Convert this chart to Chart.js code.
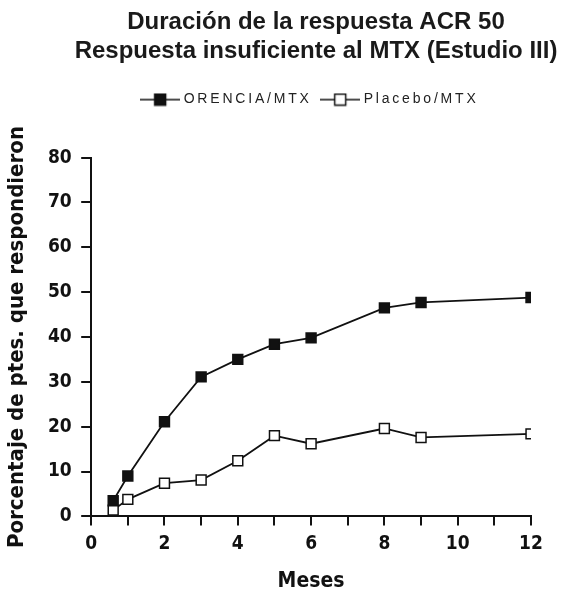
<!DOCTYPE html>
<html>
<head>
<meta charset="utf-8">
<script src="https://cdn.jsdelivr.net/npm/chart.js@4.4.1/dist/chart.umd.min.js"></script>
<style>
  html, body { margin: 0; padding: 0; background: #fff; }
  #wrap { width: 564px; height: 590px; }
</style>
</head>
<body>
<div id="wrap"><canvas id="myChart" width="564" height="590"></canvas></div>
<script>
// months and values
var meses = [0.6, 1, 2, 3, 4, 5, 6, 8, 9, 12];
var orencia = [3.5, 9.0, 21.1, 31.1, 35.0, 38.4, 39.8, 46.5, 47.7, 48.8];
var placebo = [1.4, 3.8, 7.4, 8.1, 12.4, 18.0, 16.2, 19.6, 17.6, 18.4];
var yTicks = [0, 10, 20, 30, 40, 50, 60, 70, 80];
var xLabels = [0, 2, 4, 6, 8, 10, 12];

var narrow = "'Liberation Sans Narrow', 'DejaVu Sans Condensed', 'Liberation Sans', sans-serif";

function toPoints(xs, ys) {
  return xs.map(function (x, i) { return { x: x, y: ys[i] }; });
}

// small legend sample: line with a square in the middle
function legendMark(filled) {
  var c = document.createElement('canvas');
  c.width = 40; c.height = 14;
  var g = c.getContext('2d');
  g.strokeStyle = '#111';
  g.lineWidth = 1.5;
  g.beginPath(); g.moveTo(0, 7); g.lineTo(40, 7); g.stroke();
  g.fillStyle = filled ? '#111' : '#fff';
  g.fillRect(14, 1, 12, 12);
  g.strokeRect(14.5, 1.5, 11, 11);
  return c;
}

// extra room under the legend + spaced-out legend text
var legendTweak = {
  id: 'legendTweak',
  beforeInit: function (chart) {
    var lg = chart.legend;
    var fit = lg.fit, draw = lg.draw;
    lg.fit = function () {
      chart.ctx.letterSpacing = '2.8px';
      fit.call(lg);
      chart.ctx.letterSpacing = '0px';
      this.height += 41;
    };
    lg.draw = function () {
      chart.ctx.letterSpacing = '2.8px';
      draw.call(lg);
      chart.ctx.letterSpacing = '0px';
    };
  }
};

// let the two title lines use a wider span than the plot area, centred like the original
var titleSpan = {
  id: 'titleSpan',
  afterLayout: function (chart) {
    chart.boxes.forEach(function (b) {
      if (b.options && typeof b.options.text === 'string' && !b.axis && !b.legendItems) {
        b.left = 68;
        b.right = 564;
        b.width = b.right - b.left;
      }
    });
  }
};

var ctx = document.getElementById('myChart').getContext('2d');
var myChart = new Chart(ctx, {
  type: 'line',
  data: {
    datasets: [{
      label: 'ORENCIA/MTX',
      data: toPoints(meses, orencia),
      borderColor: '#111',
      backgroundColor: '#111',
      borderWidth: 1.8,
      pointStyle: 'rect',
      pointRadius: 7,
      pointBorderWidth: 1.5,
      pointBackgroundColor: '#111',
      pointBorderColor: '#111',
      tension: 0
    }, {
      label: 'Placebo/MTX',
      data: toPoints(meses, placebo),
      borderColor: '#111',
      backgroundColor: '#fff',
      borderWidth: 1.8,
      pointStyle: 'rect',
      pointRadius: 7,
      pointBorderWidth: 1.5,
      pointBackgroundColor: '#fff',
      pointBorderColor: '#111',
      tension: 0
    }]
  },
  options: {
    responsive: false,
    animation: false,
    layout: { padding: { left: 4, right: 33, top: 2, bottom: 0 } },
    plugins: {
      title: {
        display: true,
        fullSize: false,
        text: 'Duración de la respuesta ACR 50',
        color: '#1a1a1a',
        font: { family: 'Liberation Sans', size: 24, weight: 'bold', lineHeight: 1.2 },
        padding: { top: 6, bottom: 0 }
      },
      subtitle: {
        display: true,
        fullSize: false,
        text: 'Respuesta insuficiente al MTX (Estudio III)',
        color: '#1a1a1a',
        font: { family: 'Liberation Sans', size: 24, weight: 'bold', lineHeight: 1.2 },
        padding: { top: 0, bottom: 15 }
      },
      legend: {
        position: 'top',
        fullSize: false,
        labels: {
          usePointStyle: true,
          pointStyleWidth: 33,
          color: '#222',
          font: { family: 'Liberation Sans', size: 14 },
          padding: 12,
          generateLabels: function (chart) {
            return chart.data.datasets.map(function (ds, i) {
              return {
                text: ds.label,
                pointStyle: legendMark(i === 0),
                datasetIndex: i,
                fontColor: '#222',
                lineWidth: 0
              };
            });
          }
        }
      },
      tooltip: { enabled: false }
    },
    scales: {
      x: {
        type: 'linear',
        min: 0,
        max: 12,
        border: { color: '#111', width: 2 },
        grid: { drawOnChartArea: false, color: '#111', lineWidth: 2, tickLength: 9 },
        ticks: {
          stepSize: 1,
          autoSkip: false,
          maxRotation: 0,
          color: '#111',
          font: { family: narrow, size: 19, weight: 'bold' },
          padding: 7,
          callback: function (v) { return xLabels.indexOf(v) >= 0 ? String(v) : ''; }
        },
        title: {
          display: true,
          text: 'Meses',
          color: '#111',
          font: { family: narrow, size: 21, weight: 'bold', lineHeight: 0.8 },
          padding: { top: 11, bottom: 0 }
        }
      },
      y: {
        min: 0,
        max: 80,
        border: { color: '#111', width: 2 },
        grid: { drawOnChartArea: false, color: '#111', lineWidth: 2, tickLength: 10 },
        afterBuildTicks: function (axis) {
          axis.ticks = yTicks.map(function (v) { return { value: v }; });
        },
        ticks: {
          color: '#111',
          font: { family: narrow, size: 19, weight: 'bold' },
          padding: 9.5
        },
        title: {
          display: true,
          text: 'Porcentaje de ptes. que respondieron',
          color: '#111',
          font: { family: narrow, size: 22, weight: 'bold' },
          padding: { top: 0, bottom: 8 }
        }
      }
    }
  },
  plugins: [legendTweak, titleSpan]
});
</script>
</body>
</html>
